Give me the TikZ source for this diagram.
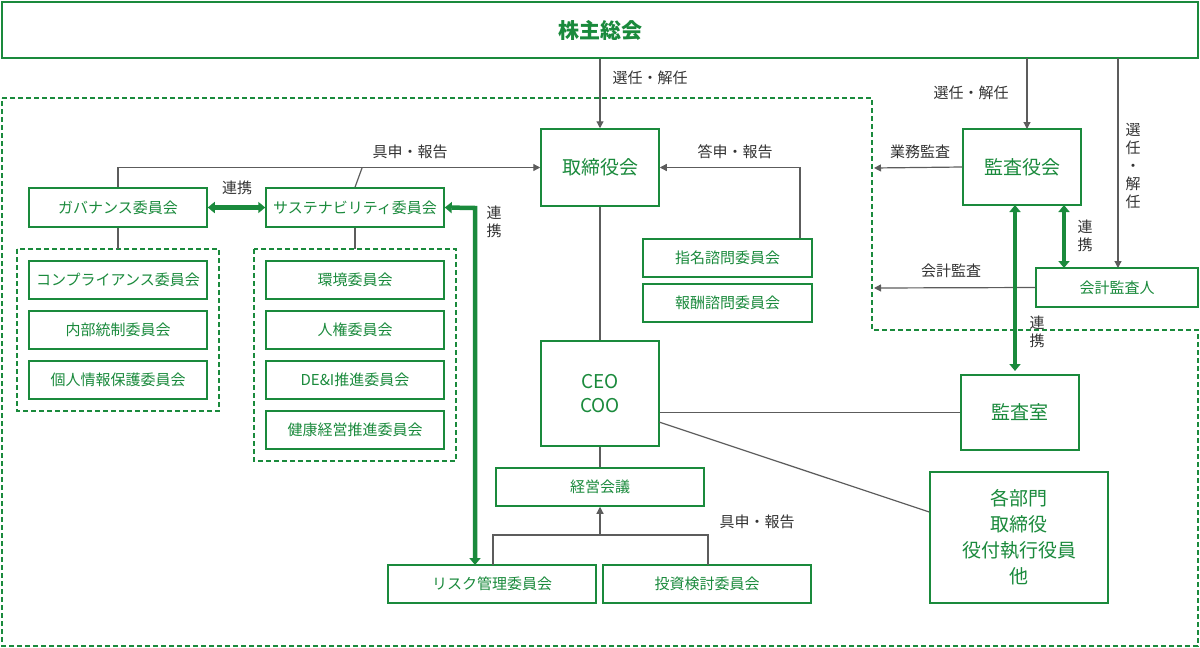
\documentclass[tikz,border=0pt]{standalone}
\usepackage{fontspec}
\setmainfont{Noto Sans CJK JP}
\usetikzlibrary{positioning,arrows.meta}
\definecolor{grn}{HTML}{1A8A3C}
\definecolor{lbl}{HTML}{333333}
\begin{document}
\begin{tikzpicture}[x=1pt,y=-1pt,font=\fontsize{15}{17}\selectfont]
        %
        % `box' is used for the committee boxes.
        % `link' is used for the thick green arrows.
        \tikzstyle{box} = [draw=grn,line width=1.5pt,text=grn,fill=white,inner sep=0pt]
        \tikzstyle{conn} = [draw=lbl!80,line width=1.2pt]
        \tikzstyle{rep} = [conn,-{Triangle[length=7pt,width=7pt]}]
        \tikzstyle{link} = [draw=grn,line width=4.5pt,{Triangle[length=7pt,width=11pt]}-{Triangle[length=7pt,width=11pt]}]
        \tikzstyle{lab} = [text=lbl,inner sep=1pt]
        \tikzstyle{grp} = [draw=grn,line width=1.2pt,dash pattern=on 5pt off 3pt]
        \useasboundingbox (0,0) rectangle (1200,648);
        %
        % Frames
        \draw[grp] (2,98) -- (872,98) -- (872,330) -- (1198,330) -- (1198,646) -- (2,646) -- cycle;
        \draw[grp] (17,249) rectangle (219,411);
        \draw[grp] (254,249) rectangle (456,461);
        %
        % Top
        \node[box,minimum width=1196pt,minimum height=56pt,font=\fontsize{21}{23}\selectfont\bfseries] (gm) at (600,30) {株主総会};
        \node[box,minimum width=118pt,minimum height=77pt,font=\fontsize{19}{21}\selectfont] (bod) at (600,167.5) {取締役会};
        \node[box,minimum width=118pt,minimum height=76pt,font=\fontsize{19}{21}\selectfont] (kan) at (1022,167) {監査役会};
        \node[box,minimum width=162pt,minimum height=39pt] (kai) at (1117,287.5) {会計監査人};
        \node[box,minimum width=118pt,minimum height=75pt,font=\fontsize{19}{21}\selectfont] (aud) at (1020,412.5) {監査室};
        \node[box,minimum width=178pt,minimum height=131pt,align=center,font=\fontsize{19}{26}\selectfont] (dep) at (1019,537.5) {各部門\\取締役\\役付執行役員\\他};
        \node[box,minimum width=118pt,minimum height=105pt,align=center,font=\fontsize{19}{24}\selectfont] (ceo) at (600,393.5) {CEO\\COO};
        %
        % Advisory
        \node[box,minimum width=169pt,minimum height=38pt] (nom) at (727.5,258) {指名諮問委員会};
        \node[box,minimum width=169pt,minimum height=38pt] (rem) at (727.5,303) {報酬諮問委員会};
        %
        % Committees
        \node[box,minimum width=178pt,minimum height=39pt] (gov) at (118,207.5) {ガバナンス委員会};
        \node[box,minimum width=178pt,minimum height=39pt] (sus) at (355,207.5) {サステナビリティ委員会};
        \foreach \n/\t [count=\i from 0] in {cmp/コンプライアンス委員会,inr/内部統制委員会,prv/個人情報保護委員会}
          \node[box,minimum width=178pt,minimum height=38pt] (\n) at (118,280+50*\i) {\t};
        \foreach \n/\t [count=\i from 0] in {env/環境委員会,hum/人権委員会,dei/DE\&I推進委員会,hlt/健康経営推進委員会}
          \node[box,minimum width=178pt,minimum height=38pt] (\n) at (355,280+50*\i) {\t};
        %
        % Management
        \node[box,minimum width=208pt,minimum height=38pt] (mgt) at (600,487) {経営会議};
        \node[box,minimum width=208pt,minimum height=38pt] (rsk) at (492,584) {リスク管理委員会};
        \node[box,minimum width=208pt,minimum height=38pt] (inv) at (707,584) {投資検討委員会};
        %
        % Arrows
        \draw[rep] (gm.south -| bod) -- (bod);
        \node[lab] at (650,78) {選任・解任};
        \draw[rep] (1027,58) -- (1027,129);
        \node[lab] at (971,93) {選任・解任};
        \draw[rep] (1118,58) -- (1118,268);
        \node[lab,align=center,text width=16pt,font=\fontsize{15}{18}\selectfont] at (1133,166) {選\\任\\・\\解\\任};
        \draw[rep] (kan.west) -- (874,168);
        \node[lab] at (920,152) {業務監査};
        \draw[rep] (kai.west) -- (874,288);
        \node[lab] at (951,271) {会計監査};
        \draw[rep] (nom.north -| 800,0) |- (bod.east);
        \node[lab] at (735,152) {答申・報告};
        \draw[rep] (gov.north) |- (bod.west);
        \draw[conn] (sus.north) -- (362,168);
        \node[lab] at (410,152) {具申・報告};
        \draw[conn] (bod) -- (ceo);
        \draw[conn] (ceo) -- (mgt);
        \draw[conn] (ceo.east |- aud) -- (aud);
        \draw[conn] (659,422) -- (dep.west |- 0,512);
        \draw[conn] (gov) -- (gov |- 0,249);
        \draw[conn] (sus) -- (sus |- 0,249);
        \draw[conn] (493,565) -- (493,535) -- (708,535) -- (708,565);
        \draw[rep] (600,535) -- (mgt.south);
        \node[lab] at (757,522) {具申・報告};
        %
        % Links
        \draw[link] (gov.east) -- (sus.west);
        \node[lab] at (237,188) {連携};
        \draw[link] (sus.east) -- (475,208) -- (475,565);
        \node[lab,align=center,text width=16pt,font=\fontsize{15}{18}\selectfont] at (494,222) {連\\携};
        \draw[link] (1064,205) -- (1064,268);
        \node[lab,align=center,text width=16pt,font=\fontsize{15}{18}\selectfont] at (1085,236) {連\\携};
        \draw[link] (1015,205) -- (1015,371);
        \node[lab,align=center,text width=16pt,font=\fontsize{15}{18}\selectfont] at (1037,332) {連\\携};
        %
\end{tikzpicture}
\end{document}
